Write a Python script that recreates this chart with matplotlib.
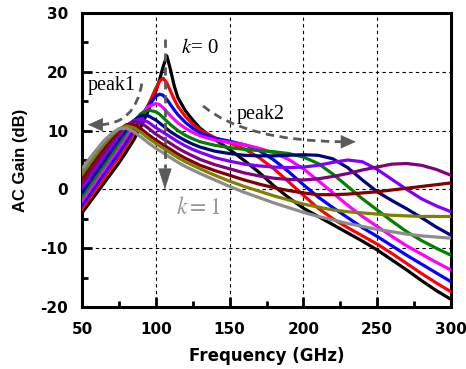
import matplotlib
matplotlib.use("Agg")
import matplotlib.pyplot as plt
from matplotlib.ticker import MultipleLocator
from matplotlib.path import Path
from matplotlib.patches import PathPatch

plt.rcParams['mathtext.fontset'] = 'stix'
plt.rcParams['axes.unicode_minus'] = False

# frequency grid (GHz) shared by all curves
freq = [50, 55, 60, 65, 70, 75, 80, 85, 90, 95, 100, 102.5, 105, 107.5, 110, 112.5, 115,
        120, 125, 130, 140, 150, 160, 170, 180, 190, 200, 210, 220, 230, 240, 250,
        260, 270, 280, 290, 300]

# AC gain (dB), k = 0 ... 1
gain_k00 = [-4.0, -2.3, -0.6, 1.1, 2.8, 4.5, 6.4, 8.4, 10.7, 13.4, 16.7, 18.6, 20.9, 22.7, 20.3, 17.6, 15.6,
            13.4, 11.8, 10.4, 8.5, 6.8, 4.9, 2.9, 0.6, -1.4, -3.2, -4.6, -6.0, -7.4, -8.8, -10.3,
            -12.0, -13.7, -15.5, -17.2, -18.7]
gain_k01 = [-3.3, -1.5, 0.3, 2.0, 3.7, 5.5, 7.4, 9.5, 11.8, 14.4, 17.2, 18.4, 18.9, 18.1, 16.7, 15.3, 14.1,
            12.4, 11.1, 10.1, 8.8, 7.9, 6.9, 5.4, 3.5, 1.3, -1.0, -3.2, -5.0, -6.5, -7.9, -9.3,
            -10.9, -12.6, -14.3, -15.9, -17.4]
gain_k02 = [-2.6, -0.8, 1.0, 2.8, 4.5, 6.3, 8.2, 10.2, 12.3, 14.3, 15.8, 16.2, 16.0, 15.3, 14.4, 13.5, 12.7,
            11.4, 10.4, 9.6, 8.7, 8.2, 7.6, 6.6, 5.0, 3.0, 0.8, -1.3, -3.1, -4.8, -6.5, -8.0,
            -9.6, -11.2, -12.7, -14.2, -15.7]
gain_k03 = [-1.9, -0.1, 1.7, 3.5, 5.3, 7.1, 9.0, 10.9, 12.7, 14.1, 14.6, 14.4, 13.9, 13.2, 12.5, 11.9, 11.3,
            10.4, 9.7, 9.1, 8.4, 8.0, 7.6, 7.0, 6.2, 5.1, 3.5, 1.5, -0.6, -2.7, -4.6, -6.3,
            -8.0, -9.6, -11.0, -12.4, -13.7]
gain_k04 = [-1.2, 0.6, 2.4, 4.2, 6.0, 7.8, 9.7, 11.5, 12.9, 13.5, 13.2, 12.8, 12.2, 11.6, 11.0, 10.5, 10.0,
            9.2, 8.6, 8.1, 7.5, 7.1, 6.8, 6.6, 6.4, 6.1, 5.5, 4.4, 2.6, 0.5, -1.6, -3.5,
            -5.4, -7.2, -8.7, -10.0, -11.2]
gain_k05 = [-0.5, 1.3, 3.1, 4.9, 6.7, 8.5, 10.2, 11.7, 12.6, 12.5, 11.8, 11.3, 10.8, 10.3, 9.8, 9.4, 9.0,
            8.3, 7.7, 7.2, 6.5, 6.1, 5.8, 5.7, 5.7, 5.8, 5.9, 5.8, 5.2, 3.7, 1.6, -0.4,
            -1.9, -3.3, -4.8, -6.4, -7.8]
gain_k06 = [0.3, 2.1, 3.9, 5.7, 7.4, 9.1, 10.6, 11.7, 12.0, 11.4, 10.5, 10.1, 9.7, 9.3, 8.9, 8.5, 8.1,
            7.4, 6.8, 6.3, 5.4, 4.8, 4.3, 4.0, 3.8, 3.7, 3.8, 4.1, 4.6, 5.0, 4.7, 3.4,
            1.7, 0.0, -1.6, -2.8, -3.8]
gain_k07 = [1.0, 2.8, 4.6, 6.4, 8.1, 9.7, 10.9, 11.6, 11.3, 10.4, 9.4, 9.0, 8.6, 8.2, 7.8, 7.4, 7.0,
            6.3, 5.7, 5.1, 4.2, 3.5, 2.8, 2.3, 1.9, 1.7, 1.6, 1.8, 2.2, 2.7, 3.3, 3.8,
            4.3, 4.4, 4.1, 3.4, 2.4]
gain_k08 = [1.8, 3.6, 5.4, 7.1, 8.7, 10.1, 11.0, 11.0, 10.3, 9.3, 8.4, 8.0, 7.6, 7.2, 6.8, 6.4, 6.0,
            5.3, 4.7, 4.1, 3.2, 2.4, 1.6, 0.9, 0.3, -0.2, -0.6, -0.9, -0.9, -0.8, -0.6, -0.4,
            -0.1, 0.2, 0.5, 0.8, 1.1]
gain_k09 = [2.6, 4.4, 6.1, 7.7, 9.1, 10.3, 10.8, 10.5, 9.7, 8.7, 7.8, 7.4, 7.0, 6.6, 6.2, 5.8, 5.4,
            4.7, 4.1, 3.5, 2.4, 1.4, 0.5, -0.3, -1.1, -1.8, -2.5, -3.0, -3.5, -3.8, -4.0, -4.2,
            -4.4, -4.5, -4.6, -4.6, -4.6]
gain_k10 = [3.5, 5.2, 6.8, 8.3, 9.5, 10.3, 10.4, 9.8, 8.9, 7.9, 7.0, 6.6, 6.2, 5.8, 5.4, 5.0, 4.6,
            3.9, 3.3, 2.7, 1.6, 0.5, -0.5, -1.4, -2.3, -3.1, -3.9, -4.6, -5.2, -5.8, -6.3, -6.8,
            -7.2, -7.6, -7.9, -8.1, -8.3]

curves = [gain_k00, gain_k01, gain_k02, gain_k03, gain_k04, gain_k05,
          gain_k06, gain_k07, gain_k08, gain_k09, gain_k10]
colors = ['black', '#ff0000', '#0000ff', '#ff00ff', '#008000', '#000080',
          '#8000ff', '#800080', '#800000', '#808000', '#8c8c8c']

fig = plt.figure(figsize=(4.66, 3.69), dpi=100)
ax = fig.add_axes([82 / 466, 1 - 307 / 369, (451 - 82) / 466, (307 - 13) / 369])

for g, c in zip(curves, colors):
    ax.plot(freq, g, color=c, lw=2.3, zorder=3)

ax.set_xlim(50, 300)
ax.set_ylim(-20, 30)
ax.xaxis.set_major_locator(MultipleLocator(50))
ax.xaxis.set_minor_locator(MultipleLocator(25))
ax.yaxis.set_major_locator(MultipleLocator(10))
ax.yaxis.set_minor_locator(MultipleLocator(5))
ax.grid(True, which='major', color='black', linestyle=(0, (3, 3)), lw=0.8)
ax.tick_params(which='both', direction='in', width=2, top=False, right=False)
ax.tick_params(which='major', length=7, labelsize=11)
ax.tick_params(axis='x', which='major', pad=11)
ax.tick_params(axis='y', which='major', pad=10)
ax.tick_params(which='minor', length=4)
for lab in ax.get_xticklabels() + ax.get_yticklabels():
    lab.set_fontweight('bold')
for s in ax.spines.values():
    s.set_linewidth(2.2)

ax.set_xlabel('Frequency (GHz)', fontsize=12, fontweight='bold', labelpad=7)
ax.set_ylabel('AC Gain (dB)', fontsize=12, fontweight='bold', family='Liberation Sans', labelpad=9)

# guide arrows: dashed curves with solid heads
guide = '#5a5a5a'
dash = dict(facecolor='none', edgecolor=guide, lw=2, linestyle=(0, (3, 2)), zorder=4)
head = dict(arrowstyle='-|>,head_length=1.0,head_width=0.45', mutation_scale=10,
            color=guide, lw=0.5, shrinkA=0, shrinkB=0)

ax.add_patch(PathPatch(Path([(90.5, 18.0), (86, 11.1), (62, 11.0)],
                            [Path.MOVETO, Path.CURVE3, Path.CURVE3]), **dash))
ax.annotate('', xy=(54, 11.0), xytext=(63.5, 11.0), arrowprops=head, zorder=5)

ax.add_patch(PathPatch(Path([(132, 14.2), (160, 8.3), (226, 8.1)],
                            [Path.MOVETO, Path.CURVE3, Path.CURVE3]), **dash))
ax.annotate('', xy=(235.5, 8.1), xytext=(226, 8.1), arrowprops=head, zorder=5)

ax.add_patch(PathPatch(Path([(106.2, 25.5), (106.2, 3.6)],
                            [Path.MOVETO, Path.LINETO]), **dash))
ax.annotate('', xy=(106.2, 0), xytext=(106.2, 3.6),
            arrowprops=dict(head, arrowstyle='-|>,head_length=1.4,head_width=0.45'), zorder=5)

ax.text(117, 24, '$k$= 0', fontsize=15, family='Liberation Serif', va='center', zorder=5)
ax.text(54, 17.7, 'peak1', fontsize=14.5, family='Liberation Serif', va='center', zorder=5)
ax.text(155, 12.7, 'peak2', fontsize=14.5, family='Liberation Serif', va='center', zorder=5)
ax.text(114, -3.0, '$k = 1$', fontsize=17, color='0.6', va='center', zorder=5)

fig.savefig('out.png', dpi=100)
